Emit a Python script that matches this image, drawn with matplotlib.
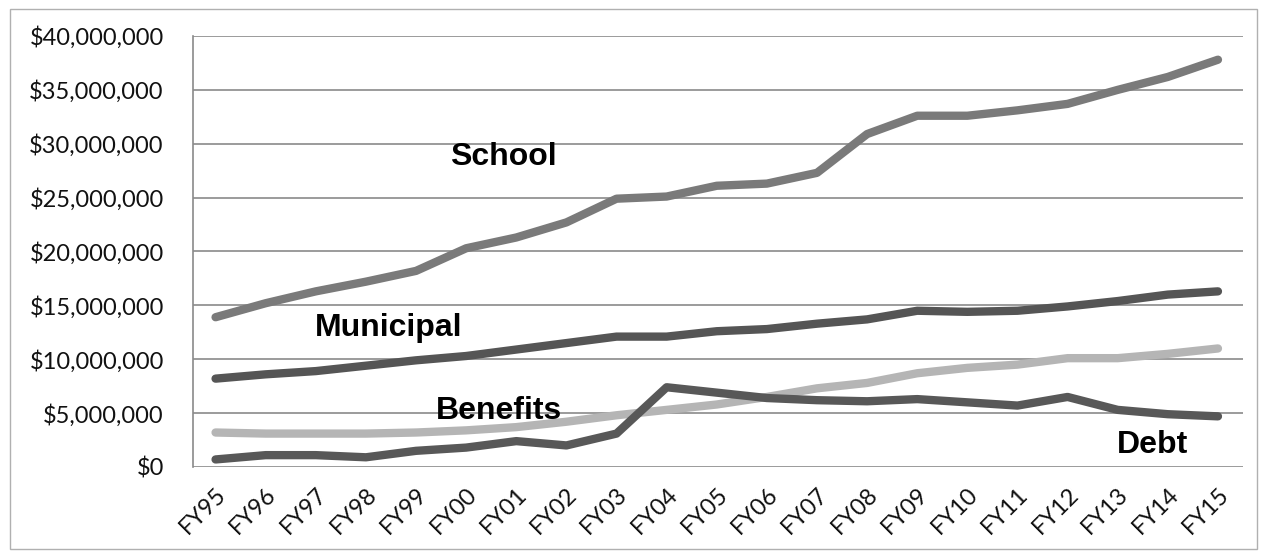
import matplotlib.pyplot as plt
from matplotlib.patches import Rectangle
from matplotlib.ticker import FuncFormatter
import numpy as np

years = ['FY95', 'FY96', 'FY97', 'FY98', 'FY99', 'FY00', 'FY01', 'FY02', 'FY03', 'FY04', 'FY05',
         'FY06', 'FY07', 'FY08', 'FY09', 'FY10', 'FY11', 'FY12', 'FY13', 'FY14', 'FY15']

school = [13.9, 15.2, 16.3, 17.2, 18.2, 20.3, 21.3, 22.7, 24.9, 25.1, 26.1,
          26.3, 27.3, 30.9, 32.6, 32.6, 33.1, 33.7, 35.0, 36.2, 37.8]
municipal = [8.2, 8.6, 8.9, 9.4, 9.9, 10.3, 10.9, 11.5, 12.1, 12.1, 12.6,
             12.8, 13.3, 13.7, 14.5, 14.4, 14.5, 14.9, 15.4, 16.0, 16.3]
benefits = [3.2, 3.1, 3.1, 3.1, 3.2, 3.4, 3.7, 4.2, 4.8, 5.3, 5.8,
            6.5, 7.3, 7.8, 8.7, 9.2, 9.5, 10.1, 10.1, 10.5, 11.0]
debt = [0.7, 1.1, 1.1, 0.9, 1.5, 1.8, 2.4, 2.0, 3.1, 7.4, 6.9,
        6.4, 6.2, 6.1, 6.3, 6.0, 5.7, 6.5, 5.3, 4.9, 4.7]

series = [
    ('School', school, '#7a7a7a', 5.75, 28.8),
    ('Municipal', municipal, '#555555', 3.45, 12.9),
    ('Benefits', benefits, '#b5b5b5', 5.65, 5.2),
    ('Debt', debt, '#585858', 18.7, 2.0),
]

fig = plt.figure(figsize=(12.64, 5.59), dpi=100)
ax = fig.add_axes([0.1527, 0.1646, 0.9834 - 0.1527, 0.9356 - 0.1646])

x = np.arange(len(years))
for name, vals, color, lx, ly in series:
    ax.plot(x, np.array(vals) * 1e6, color=color, lw=6, solid_capstyle='round',
            solid_joinstyle='round', zorder=3)
    ax.text(lx, ly * 1e6, name, fontsize=23, fontweight='bold', family='Liberation Sans',
            ha='center', va='center', color='black', zorder=4)

ax.set_xlim(-0.45, 20.5)
ax.set_ylim(0, 40e6)
ax.set_yticks(np.arange(0, 40e6 + 1, 5e6))
ax.yaxis.set_major_formatter(FuncFormatter(lambda v, p: '${:,.0f}'.format(v)))
ax.set_xticks(x)
ax.set_xticklabels(years, rotation=45, ha='right', rotation_mode='anchor')
ax.grid(axis='y', color='#8a8a8a', lw=1.2, zorder=1)
ax.tick_params(axis='y', length=0, pad=21, labelsize=17, labelcolor='#111111')
ax.tick_params(axis='x', length=0, pad=12, labelsize=17, labelcolor='#111111')
for lab in ax.get_xticklabels() + ax.get_yticklabels():
    lab.set_family('Lato')
for s in ['top', 'right', 'bottom']:
    ax.spines[s].set_visible(False)
ax.spines['left'].set_color('#8a8a8a')
ax.spines['left'].set_linewidth(1.2)

fig.patches.append(Rectangle((10 / 1264, 10 / 559), 1247 / 1264, 540 / 559,
                             transform=fig.transFigure, fill=False,
                             edgecolor='#b0b0b0', lw=1.0))

fig.savefig('out.png', dpi=100)
